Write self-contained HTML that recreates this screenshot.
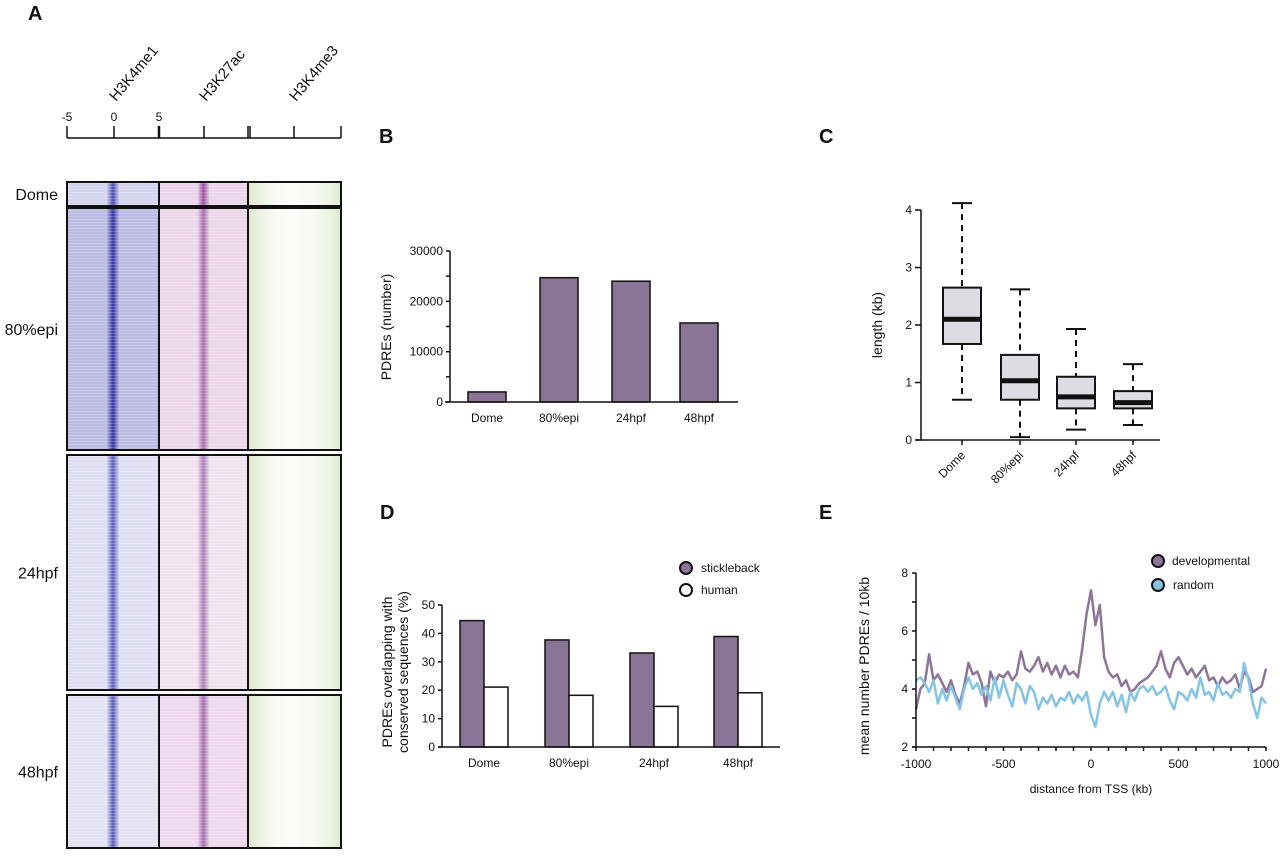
<!DOCTYPE html>
<html><head><meta charset="utf-8"><style>
body{margin:0;background:#fff;}
svg text{font-family:"Liberation Sans",Arial,sans-serif;fill:#111;}
</style></head><body>
<svg id="fig" width="1280" height="854" viewBox="0 0 1280 854" xmlns="http://www.w3.org/2000/svg">
<defs>
<pattern id="lines" width="4" height="3" patternUnits="userSpaceOnUse"><rect width="4" height="1" fill="rgba(255,255,255,0.2)"/></pattern>
</defs>
<g id="panelA"></g>
<g id="panelB"></g>
<g id="panelC"></g>
<g id="panelD"></g>
<g id="panelE"></g>
</svg>
<script>
// ---- Data ----
const stages = ["Dome","80%epi","24hpf","48hpf"];
const pdreCounts = [2000, 24700, 24000, 15700];
const bTicks = [0,10000,20000,30000];
const boxMin = [0.7, 0.05, 0.18, 0.26];
const boxQ1 = [1.67, 0.7, 0.55, 0.55];
const boxMed = [2.1, 1.03, 0.75, 0.65];
const boxQ3 = [2.65, 1.48, 1.1, 0.85];
const boxMax = [4.12, 2.62, 1.93, 1.32];
const cTicks = [0,1,2,3,4];
const stickleback = [44.5, 37.7, 33.1, 38.9];
const human = [21.1, 18.2, 14.3, 19.1];
const dTicks = [0,10,20,30,40,50];
const eX = [-1000,-975,-950,-925,-900,-875,-850,-825,-800,-775,-750,-725,-700,-675,-650,-625,-600,-575,-550,-525,-500,-475,-450,-425,-400,-375,-350,-325,-300,-275,-250,-225,-200,-175,-150,-125,-100,-75,-50,-25,0,25,50,75,100,125,150,175,200,225,250,275,300,325,350,375,400,425,450,475,500,525,550,575,600,625,650,675,700,725,750,775,800,825,850,875,900,925,950,975,1000];
const developmental = [3.3,4.0,4.2,5.2,4.3,4.5,4.2,3.9,4.3,3.8,3.5,4.1,4.9,4.5,4.6,4.2,3.4,4.6,4.2,4.5,4.4,4.6,4.3,4.5,5.3,4.7,4.6,4.8,5.1,4.6,4.9,4.5,4.8,4.4,4.8,4.5,4.6,4.4,5.4,6.6,7.4,6.2,6.9,5.1,4.6,4.4,4.5,4.1,4.3,3.9,4.0,4.2,4.3,4.4,4.6,4.8,5.3,4.7,4.4,4.9,5.1,4.8,4.5,4.7,4.4,4.6,4.8,4.3,4.4,4.1,4.4,4.2,4.3,4.5,4.0,4.6,4.4,3.9,4.0,4.1,4.7];
const random = [4.3,4.4,4.2,3.9,4.3,3.5,4.0,3.6,4.1,3.7,3.3,4.0,4.4,4.0,4.2,3.8,4.1,3.6,4.4,3.7,4.3,3.8,3.4,4.2,4.0,3.5,4.1,3.9,3.3,3.7,3.5,3.8,3.4,3.7,3.6,3.9,3.5,3.8,3.6,3.9,3.1,2.7,3.5,3.9,3.6,3.9,3.4,3.8,3.2,3.9,3.6,4.0,4.1,3.9,4.1,3.8,3.9,4.1,3.6,3.3,3.9,3.8,3.6,4.0,3.7,4.4,3.8,3.9,3.6,4.2,3.8,3.9,3.7,4.0,3.9,4.9,4.3,3.5,3.0,3.7,3.5];
const eXTicks = [-1000,-500,0,500,1000];
const eYTicks = [2,4,6,8];
const heatRows = ["Dome","80%epi","24hpf","48hpf"];
const marks = ["H3K4me1","H3K27ac","H3K4me3"];

const NS="http://www.w3.org/2000/svg";
function el(parent,tag,attrs,text){const e=document.createElementNS(NS,tag);for(const k in attrs)e.setAttribute(k,attrs[k]);if(text!==undefined)e.textContent=text;parent.appendChild(e);return e;}
const PURPLE="#8a7597";
const TF=12;

// ---- Panel A ----
(function(){
  const g=document.getElementById('panelA');
  let t=el(g,'text',{x:28,y:20,'font-size':20,'font-weight':'bold'},'A');
  
  const cols=[[67,159],[159,248],[248,341]];
  const ax=el(g,'g',{});
  el(ax,'line',{x1:67,y1:138,x2:341,y2:138,stroke:'#111','stroke-width':1.5});
  [67,114,159,204,248,250,294,341].forEach(x=>el(ax,'line',{x1:x,y1:126,x2:x,y2:138,stroke:'#111','stroke-width':x==159?2.5:1.5}));
  [["-5",67],["0",114],["5",159]].forEach(([s,x])=>el(ax,'text',{x:x,y:121,'font-size':12,'text-anchor':'middle'},s));
  marks.forEach((m,i)=>{const x=[114,204,294][i]+2;const tt=el(g,'text',{x:x,y:102,'font-size':15,transform:`rotate(-50 ${x} 102)`},m);
    });
  const rows=[[182,206],[208,450],[455,690],[695,848]];
  const specsByRow=[
    [{bg:'#d4d4ee',c:'#4a4ab0'},{bg:'#ead4ea',c:'#9a4aa0'}],
    [{bg:'#bcbce2',c:'#3434a4'},{bg:'#ebd6ea',c:'#a56aae'}],
    [{bg:'#dedef2',c:'#5c5cbc'},{bg:'#f1e2f0',c:'#ab7ab4'}],
    [{bg:'#e2e2f3',c:'#5858b8'},{bg:'#eed8ee',c:'#a06aac'}]];
  const defs=document.querySelector('defs');
  const gg=el(defs,'linearGradient',{id:'greenG',x1:0,x2:1,y1:0,y2:0});
  el(gg,'stop',{offset:'0','stop-color':'#dfead2'});el(gg,'stop',{offset:'0.25','stop-color':'#f6f9f2'});
  el(gg,'stop',{offset:'0.5','stop-color':'#fbfcf9'});el(gg,'stop',{offset:'0.75','stop-color':'#f6f9f2'});el(gg,'stop',{offset:'1','stop-color':'#dfead2'});
  rows.forEach((r,ri)=>{
    cols.forEach((c,ci)=>{
      let fill='url(#greenG)';
      if(ci<2){
        const id=`hg${ri}_${ci}`;const s=specsByRow[ri][ci];
        const lg=el(defs,'linearGradient',{id:id,x1:0,x2:1,y1:0,y2:0});
        el(lg,'stop',{offset:'0','stop-color':s.bg});el(lg,'stop',{offset:'0.43','stop-color':s.bg});
        el(lg,'stop',{offset:'0.5','stop-color':s.c});el(lg,'stop',{offset:'0.57','stop-color':s.bg});el(lg,'stop',{offset:'1','stop-color':s.bg});
        fill=`url(#${id})`;
      }
      const rr=el(g,'rect',{x:c[0],y:r[0],width:c[1]-c[0],height:r[1]-r[0],fill:fill});
      
      
      if(ci<2) el(g,'rect',{x:c[0],y:r[0],width:c[1]-c[0],height:r[1]-r[0],fill:'url(#lines)'});
      el(g,'rect',{x:c[0],y:r[0],width:c[1]-c[0],height:r[1]-r[0],fill:'none',stroke:'#111','stroke-width':2});
    });
    const lt=el(g,'text',{x:58,y:(r[0]+r[1])/2+6,'font-size':16,'text-anchor':'end'},heatRows[ri]);
    
  });
})();

// ---- Panel B ----
(function(){
  const g=document.getElementById('panelB');
  const x0=450,y0=402,yTop=251,max=30000;
  const y=v=>y0-(v/max)*(y0-yTop);
  const centers=[487,559,631,699];
  let t=el(g,'text',{x:379,y:143,'font-size':20,'font-weight':'bold'},'B');
  stages.forEach((s,i)=>{const r=el(g,'rect',{x:centers[i]-19,y:y(pdreCounts[i]),width:38,height:y0-y(pdreCounts[i]),fill:PURPLE,stroke:'#111','stroke-width':1.5});
    
    el(g,'text',{x:centers[i],y:422,'font-size':TF,'text-anchor':'middle'},s);});
  el(g,'line',{x1:x0,y1:y(max),x2:x0,y2:y0,stroke:'#111','stroke-width':1.5});
  el(g,'line',{x1:x0-5,y1:y0,x2:738,y2:y0,stroke:'#111','stroke-width':1.5});
  for(let v=0;v<=max;v+=5000)el(g,'line',{x1:x0-4,y1:y(v),x2:x0,y2:y(v),stroke:'#111','stroke-width':1.5});
  bTicks.forEach(v=>el(g,'text',{x:x0-7,y:y(v)+4,'font-size':TF,'text-anchor':'end'},v));
  const yl=el(g,'text',{x:391,y:327,'font-size':14,'text-anchor':'middle',transform:'rotate(-90 391 327)'},'PDREs (number)');
  
})();

// ---- Panel C ----
(function(){
  const g=document.getElementById('panelC');
  const x0=921,y0=440,yTop=210,max=4;
  const y=v=>y0-(v/max)*(y0-yTop);
  const centers=[962,1020,1076,1133];
  let t=el(g,'text',{x:819,y:143,'font-size':20,'font-weight':'bold'},'C');
  stages.forEach((s,i)=>{const c=centers[i];const bg=el(g,'g',{});
    
    el(bg,'line',{x1:c,y1:y(boxMax[i]),x2:c,y2:y(boxQ3[i]),stroke:'#111','stroke-width':2,'stroke-dasharray':'6,5'});
    el(bg,'line',{x1:c,y1:y(boxQ1[i]),x2:c,y2:y(boxMin[i]),stroke:'#111','stroke-width':2,'stroke-dasharray':'6,5'});
    el(bg,'line',{x1:c-10,y1:y(boxMax[i]),x2:c+10,y2:y(boxMax[i]),stroke:'#111','stroke-width':2});
    el(bg,'line',{x1:c-10,y1:y(boxMin[i]),x2:c+10,y2:y(boxMin[i]),stroke:'#111','stroke-width':2});
    el(bg,'rect',{x:c-19,y:y(boxQ3[i]),width:38,height:y(boxQ1[i])-y(boxQ3[i]),fill:'#dcdde2',stroke:'#111','stroke-width':2});
    el(bg,'line',{x1:c-19,y1:y(boxMed[i]),x2:c+19,y2:y(boxMed[i]),stroke:'#111','stroke-width':5});
    el(g,'line',{x1:c,y1:y0,x2:c,y2:y0+5,stroke:'#111','stroke-width':1.5});
    el(g,'text',{x:c+4,y:456,'font-size':TF,'text-anchor':'end',transform:`rotate(-45 ${c+4} 456)`},s);
  });
  el(g,'line',{x1:x0,y1:yTop,x2:x0,y2:y0,stroke:'#111','stroke-width':1.5});
  el(g,'line',{x1:x0-5,y1:y0,x2:1160,y2:y0,stroke:'#111','stroke-width':1.5});
  cTicks.forEach(v=>{el(g,'line',{x1:x0-6,y1:y(v),x2:x0,y2:y(v),stroke:'#111','stroke-width':1.5});
    el(g,'text',{x:x0-9,y:y(v)+4,'font-size':TF,'text-anchor':'end'},v);});
  const yl=el(g,'text',{x:882,y:325,'font-size':14,'text-anchor':'middle',transform:'rotate(-90 882 325)'},'length (kb)');
  
})();

// ---- Panel D ----
(function(){
  const g=document.getElementById('panelD');
  const x0=442,y0=747,yTop=605,max=50;
  const y=v=>y0-(v/max)*(y0-yTop);
  const centers=[484,569,654,738];
  let t=el(g,'text',{x:380,y:519,'font-size':20,'font-weight':'bold'},'D');
  stages.forEach((s,i)=>{const c=centers[i];
    const r1=el(g,'rect',{x:c-24,y:y(stickleback[i]),width:24,height:y0-y(stickleback[i]),fill:PURPLE,stroke:'#111','stroke-width':1.5});
    
    const r2=el(g,'rect',{x:c,y:y(human[i]),width:24,height:y0-y(human[i]),fill:'#fff',stroke:'#111','stroke-width':1.5});
    
    el(g,'text',{x:c,y:767,'font-size':TF,'text-anchor':'middle'},s);});
  el(g,'line',{x1:x0,y1:yTop,x2:x0,y2:y0,stroke:'#111','stroke-width':1.5});
  el(g,'line',{x1:x0-4,y1:y0,x2:780,y2:y0,stroke:'#111','stroke-width':1.5});
  dTicks.forEach(v=>{el(g,'line',{x1:x0-4,y1:y(v),x2:x0,y2:y(v),stroke:'#111','stroke-width':1.5});
    el(g,'text',{x:x0-7,y:y(v)+4,'font-size':TF,'text-anchor':'end'},v);});
  const yl=el(g,'text',{x:392,y:672,'font-size':14,'text-anchor':'middle',transform:'rotate(-90 392 672)'});
  el(yl,'tspan',{x:392,dy:0},'PDREs overlapping with');el(yl,'tspan',{x:392,dy:16},'conserved sequences (%)');
  
  const lg=el(g,'g',{});
  const e1=el(lg,'g',{});
  el(e1,'circle',{cx:686,cy:568,r:6,fill:PURPLE,stroke:'#111','stroke-width':2});
  el(e1,'text',{x:701,y:572,'font-size':TF},'stickleback');
  const e2=el(lg,'g',{});
  el(e2,'circle',{cx:686,cy:590,r:6,fill:'#fff',stroke:'#111','stroke-width':2});
  el(e2,'text',{x:701,y:594,'font-size':TF},'human');
})();

// ---- Panel E ----
(function(){
  const g=document.getElementById('panelE');
  const xL=916,xR=1266,y0=747,yTop=573;
  const x=v=>xL+(v+1000)/2000*(xR-xL);
  const y=v=>y0-(v-2)/6*(y0-yTop);
  let t=el(g,'text',{x:819,y:519,'font-size':20,'font-weight':'bold'},'E');
  const p1=el(g,'path',{d:eX.map((v,i)=>(i?'L':'M')+x(v).toFixed(1)+','+y(developmental[i]).toFixed(1)).join(''),fill:'none',stroke:'#8f7499','stroke-width':2.5,'stroke-linejoin':'round'});
  
  const p2=el(g,'path',{d:eX.map((v,i)=>(i?'L':'M')+x(v).toFixed(1)+','+y(random[i]).toFixed(1)).join(''),fill:'none',stroke:'#84c4e4','stroke-width':2.5,'stroke-linejoin':'round'});
  
  el(g,'line',{x1:xL,y1:yTop,x2:xL,y2:y0,stroke:'#111','stroke-width':1.5});
  el(g,'line',{x1:xL-4,y1:y0,x2:xR,y2:y0,stroke:'#111','stroke-width':1.5});
  for(let v=-1000;v<=1000;v+=100)el(g,'line',{x1:x(v),y1:y0,x2:x(v),y2:y0+4,stroke:'#111','stroke-width':1.5});
  for(let v=2;v<=8;v++)el(g,'line',{x1:xL-4,y1:y(v),x2:xL,y2:y(v),stroke:'#111','stroke-width':1.5});
  eXTicks.forEach(v=>el(g,'text',{x:x(v),y:768,'font-size':TF,'text-anchor':'middle'},v));
  eYTicks.forEach(v=>el(g,'text',{x:xL-8,y:y(v)+4,'font-size':TF,'text-anchor':'end'},v));
  const xl=el(g,'text',{x:1091,y:793,'font-size':TF,'text-anchor':'middle'},'distance from TSS (kb)');
  
  const yl=el(g,'text',{x:869,y:666,'font-size':14,'text-anchor':'middle',transform:'rotate(-90 869 666)'},'mean number PDREs / 10kb');
  
  const lg=el(g,'g',{});
  const e1=el(lg,'g',{});
  el(e1,'circle',{cx:1158,cy:561,r:6,fill:'#8f7499',stroke:'#111','stroke-width':2});
  el(e1,'text',{x:1172,y:565,'font-size':TF},'developmental');
  const e2=el(lg,'g',{});
  el(e2,'circle',{cx:1158,cy:585,r:6,fill:'#84c4e4',stroke:'#111','stroke-width':2});
  el(e2,'text',{x:1173,y:589,'font-size':TF},'random');
})();
</script>
</body></html>
